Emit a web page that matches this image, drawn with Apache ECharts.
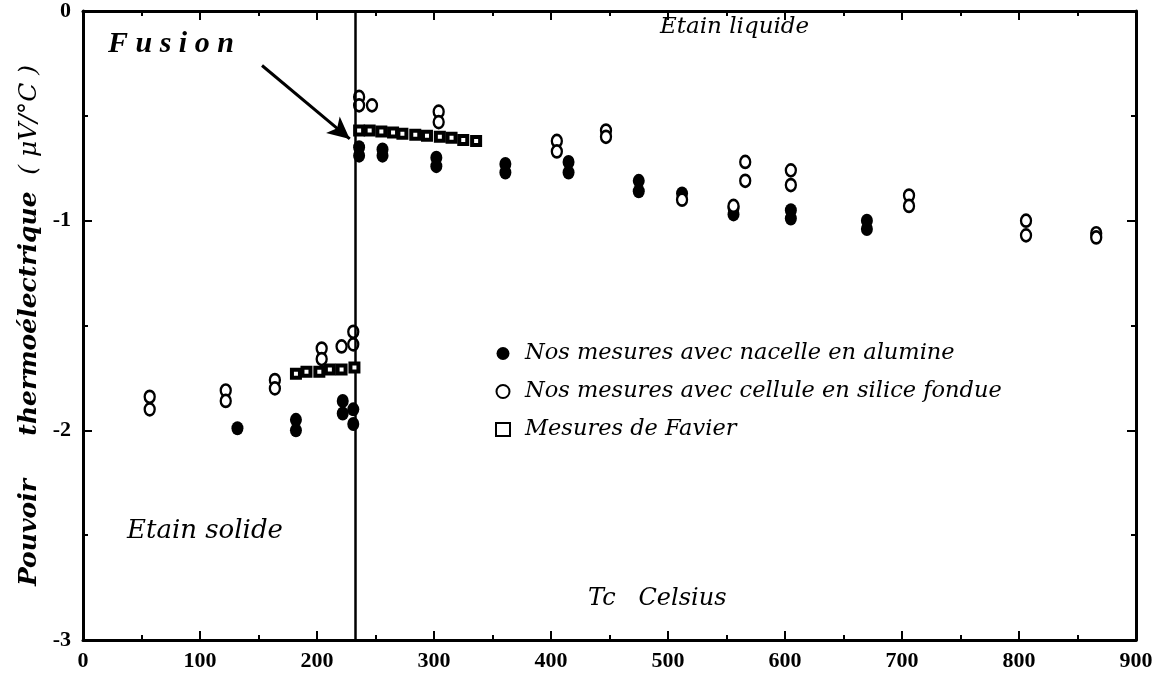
<!DOCTYPE html>
<html><head><meta charset="utf-8">
<script src="https://cdn.jsdelivr.net/npm/echarts@6/dist/echarts.min.js"></script>
<style>html,body{margin:0;padding:0;background:#fff}#c{width:1173px;height:684px}</style>
</head><body><div id="c"></div>
<script>
const xTicks = [0,100,200,300,400,500,600,700,800,900];
const yTicks = [0,-1,-2,-3];
const seriesNames = ['Nos mesures avec nacelle en alumine','Nos mesures avec cellule en silice fondue','Mesures de Favier'];
const alumina = [[132,-1.99],[182,-1.95],[182,-2.0],[222,-1.86],[222,-1.92],[231,-1.90],[231,-1.97],
  [236,-0.65],[236,-0.69],[256,-0.66],[256,-0.69],[302,-0.70],[302,-0.74],[361,-0.73],[361,-0.77],
  [415,-0.72],[415,-0.77],[475,-0.81],[475,-0.86],[512,-0.87],[556,-0.94],[556,-0.97],[605,-0.95],[605,-0.99],
  [670,-1.0],[670,-1.04]];
const silica = [[57,-1.84],[57,-1.90],[122,-1.81],[122,-1.86],[164,-1.76],[164,-1.80],[204,-1.61],[204,-1.66],
  [221,-1.60],[231,-1.53],[231,-1.59],
  [236,-0.41],[236,-0.45],[247,-0.45],[304,-0.48],[304,-0.53],[405,-0.62],[405,-0.67],[447,-0.57],[447,-0.60],
  [512,-0.90],[556,-0.93],[566,-0.72],[566,-0.81],[605,-0.76],[605,-0.83],[706,-0.88],[706,-0.93],
  [806,-1.0],[806,-1.07],[866,-1.06],[866,-1.08]];
const favier = [[182,-1.73],[191,-1.72],[202,-1.72],[211,-1.71],[221,-1.71],[232,-1.70],
  [236,-0.57],[245,-0.57],[255,-0.575],[265,-0.58],[273,-0.585],[284,-0.59],[294,-0.595],[305,-0.60],
  [315,-0.605],[325,-0.615],[336,-0.62]];
const meltingPoint = 233;
const arrowFrom = [153,-0.26];
const arrowTo = [228,-0.61];

const serif = '"Liberation Serif", serif';
const wide = '"DejaVu Serif", "Liberation Serif", serif';
const chart = echarts.init(document.getElementById('c'));
const axisCommon = {
  axisLine:{show:true,onZero:false,lineStyle:{color:'#000',width:3}},
  axisTick:{show:true,inside:true,length:9,lineStyle:{color:'#000',width:2}},
  minorTick:{show:true,splitNumber:2,length:5,lineStyle:{color:'#000',width:2}},
  splitLine:{show:false}
};
chart.setOption({
  animation:false,
  backgroundColor:'#fff',
  grid:{left:83,right:37,top:11,bottom:44},
  xAxis:[
    Object.assign({type:'value',min:0,max:900,interval:100,position:'bottom',
      axisLabel:{color:'#000',fontFamily:serif,fontWeight:'bold',fontSize:22,margin:10,
        formatter:v=>xTicks.includes(v)?String(v):''}},axisCommon),
    Object.assign({type:'value',min:0,max:900,interval:100,position:'top',axisLabel:{show:false}},axisCommon)
  ],
  yAxis:[
    Object.assign({type:'value',min:-3,max:0,interval:1,position:'left',
      name:'{b|Pouvoir     thermoélectrique}     {n|( μV/°C )}',nameLocation:'middle',nameGap:30,
      nameTextStyle:{color:'#000',rich:{
        b:{fontFamily:wide,fontWeight:'bold',fontStyle:'italic',fontSize:25,color:'#000'},
        n:{fontFamily:wide,fontStyle:'italic',fontSize:25,color:'#000'}}},
      axisLabel:{color:'#000',fontFamily:serif,fontWeight:'bold',fontSize:22,margin:12,
        formatter:v=>yTicks.includes(v)?String(v):''}},axisCommon),
    Object.assign({type:'value',min:-3,max:0,interval:1,position:'right',axisLabel:{show:false}},axisCommon)
  ],
  legend:{
    left:490,top:337,orient:'vertical',itemGap:15,itemWidth:14,itemHeight:13,
    data:seriesNames,
    textStyle:{color:'#000',fontFamily:wide,fontStyle:'italic',fontSize:22.5,padding:[0,0,0,10]}
  },
  series:[
    {name:seriesNames[0],type:'scatter',data:alumina,symbol:'circle',symbolSize:[12,14],
      itemStyle:{color:'#000',opacity:1},z:3,
      markLine:{silent:true,animation:false,symbol:['none','none'],
        lineStyle:{color:'#000',width:2.5,type:'solid'},label:{show:false},
        data:[{xAxis:meltingPoint}]}},
    {name:seriesNames[1],type:'scatter',data:silica,symbol:'circle',symbolSize:[10,12],
      itemStyle:{color:'#fff',borderColor:'#000',borderWidth:2.5,opacity:1},z:4,
      markLine:{silent:true,animation:false,symbol:['none','arrow'],symbolSize:[16,22],
        lineStyle:{color:'#000',width:3,type:'solid'},label:{show:false},
        data:[[{coord:arrowFrom},{coord:arrowTo}]]}},
    {name:seriesNames[2],type:'scatter',data:favier,symbol:'rect',symbolSize:[8,8],
      itemStyle:{color:'#fff',borderColor:'#000',borderWidth:4,opacity:1},z:5}
  ],
  graphic:[
    {type:'text',left:108,top:29,style:{text:'F u s i o n',fill:'#000',font:'italic bold 30px '+serif}},
    {type:'text',left:660,top:16,style:{text:'Etain liquide',fill:'#000',font:'italic 23px '+wide}},
    {type:'text',left:127,top:518,style:{text:'Etain solide',fill:'#000',font:'italic 26px '+wide}},
    {type:'text',left:588,top:587,style:{text:'Tc   Celsius',fill:'#000',font:'italic 24px '+wide}}
  ]
});
</script></body></html>
